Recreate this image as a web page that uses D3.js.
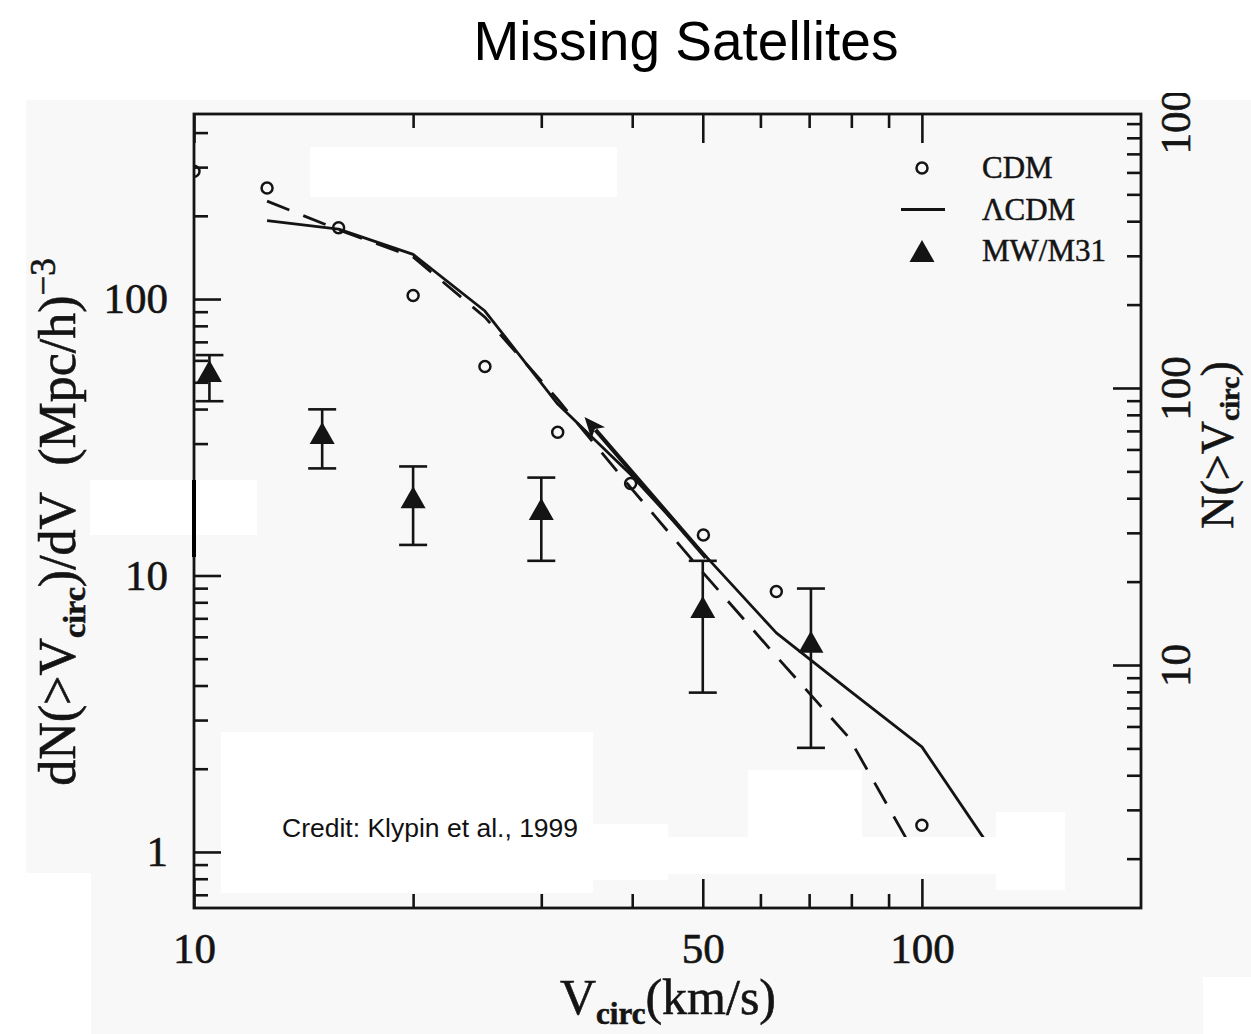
<!DOCTYPE html>
<html lang="en">
<head>
<meta charset="UTF-8">
<title>Missing Satellites</title>
<style>
	* { margin: 0; padding: 0; }
	body { background: #fff; }
	svg { display: block; }
</style>
</head>
<body>
<script src="https://cdn.jsdelivr.net/npm/d3@7"></script>
<script>
	// circular velocity bins, km/s
	var vCirc = [10, 12.6, 15.8, 20, 25.1, 31.6, 39.8, 50.1, 63.1, 79.4, 100, 125.9];
	// CDM halos (open circles)
	var cdm = [290, 252, 181, 103, 57, 33, 21.5, 14, 8.75, null, 1.25, null];
	// LCDM (solid line)
	var lcdm = [null, 192, 179, 145, 90.5, 41.7, 23.2, 12.0, 6.2, 3.85, 2.4, 0.98];
	// dashed curve
	var dashed = [null, 226, 178, 142, 86, 43.3, 20.8, 10.2, 5.1, 2.59, 0.89, null];

	// MW/M31 satellites with error bars
	var obsV = [10.5, 15.0, 20.0, 30.0, 50.0, 70.4];
	var obsN = [54.9, 32.8, 19.2, 17.4, 7.7, 5.76];
	var obsHi = [62.7, 39.9, 24.8, 22.6, 11.3, 8.97];
	var obsLo = [42.7, 24.4, 12.9, 11.3, 3.77, 2.38];

	// arrow annotation (tail -> head)
	var arrowV = [50.5, 34.4];
	var arrowN = [11.6, 37.4];

	// ticks
	var xMajor = [10, 50, 100];
	var xMinor = [20, 30, 40, 60, 70, 80, 90];
	var yMajor = [1, 10, 100];
	var yMinor = [0.7, 0.8, 0.9, 2, 3, 4, 5, 6, 7, 8, 9, 20, 30, 40, 50, 60, 70, 80, 90, 200, 300, 400];
	var rMajor = [10, 100, 1000];
	var rMinor = [2, 3, 4, 5, 6, 7, 8, 9, 20, 30, 40, 50, 60, 70, 80, 90, 200, 300, 400, 500, 600, 700, 800, 900];

	var legendItems = [
		{label: 'CDM', kind: 'circle'},
		{label: '\u039BCDM', kind: 'line'},
		{label: 'MW/M31', kind: 'tri'}
	];

	var W = 1251, H = 1034;
	var plot = {left: 194, top: 114, right: 1141, bottom: 908};
	var ink = '#141414';
	var serif = "'Liberation Serif', 'Times New Roman', serif";
	var sans = "'Liberation Sans', Arial, Helvetica, sans-serif";

	var svg = d3.select('body').append('svg').attr('width', W).attr('height', H);

	// scanned figure background
	svg.append('rect').attr('x', 26).attr('y', 100).attr('width', W - 26).attr('height', H - 100).attr('fill', '#f8f8f8');
	svg.append('rect').attr('x', 0).attr('y', 873).attr('width', 91).attr('height', H - 873).attr('fill', '#fff');
	svg.append('rect').attr('x', 1203).attr('y', 977).attr('width', W - 1203).attr('height', H - 977).attr('fill', '#fff');

	svg.append('text')
		.attr('x', 686).attr('y', 60)
		.attr('text-anchor', 'middle')
		.attr('font-family', sans).attr('font-size', 55)
		.attr('fill', '#000')
		.text('Missing Satellites');

	var defs = svg.append('defs');
	defs.append('clipPath').attr('id', 'plotClip').append('rect')
		.attr('x', plot.left).attr('y', plot.top)
		.attr('width', plot.right - plot.left).attr('height', plot.bottom - plot.top);
	defs.append('clipPath').attr('id', 'figClip').append('rect')
		.attr('x', 0).attr('y', 93).attr('width', W).attr('height', H - 93);

	var fig = svg.append('g').attr('clip-path', 'url(#figClip)');

	var x = d3.scaleLog().domain([10, 200]).range([plot.left, plot.right]);
	var y = d3.scaleLog().domain([0.627, 467]).range([plot.bottom, plot.top]);
	var yR = d3.scaleLog().domain([1.327, 975]).range([plot.bottom, plot.top]);

	// data
	var data = vCirc.map(function (v, i) {
		return {v: v, cdm: cdm[i], lcdm: lcdm[i], dashed: dashed[i]};
	});
	var obs = obsV.map(function (v, i) {
		return {v: v, n: obsN[i], hi: obsHi[i], lo: obsLo[i]};
	});

	var inner = fig.append('g').attr('clip-path', 'url(#plotClip)');

	function lineFor(key) {
		return d3.line()
			.defined(function (d) { return d[key] != null; })
			.x(function (d) { return x(d.v); })
			.y(function (d) { return y(d[key]); });
	}

	inner.append('path')
		.datum(data)
		.attr('d', lineFor('dashed'))
		.attr('fill', 'none').attr('stroke', ink).attr('stroke-width', 2.8)
		.attr('stroke-dasharray', '24,15');

	inner.append('path')
		.datum(data)
		.attr('d', lineFor('lcdm'))
		.attr('fill', 'none').attr('stroke', ink).attr('stroke-width', 2.8)
		.attr('stroke-linejoin', 'round');

	inner.selectAll('circle.cdm')
		.data(data.filter(function (d) { return d.cdm != null; }))
		.enter()
		.append('circle')
		.classed('cdm', true)
		.attr('cx', function (d) { return x(d.v); })
		.attr('cy', function (d) { return y(d.cdm); })
		.attr('r', 5.5)
		.attr('fill', 'none').attr('stroke', ink).attr('stroke-width', 2.5);

	// arrow
	var ax0 = x(arrowV[0]), ay0 = y(arrowN[0]), ax1 = x(arrowV[1]), ay1 = y(arrowN[1]);
	var ang = Math.atan2(ay1 - ay0, ax1 - ax0);
	var headLen = 21, headHalf = 9;
	fig.append('line')
		.attr('x1', ax0).attr('y1', ay0)
		.attr('x2', ax1 - Math.cos(ang) * headLen * 0.8).attr('y2', ay1 - Math.sin(ang) * headLen * 0.8)
		.attr('stroke', ink).attr('stroke-width', 4.2);
	fig.append('path')
		.attr('d', 'M0,0L' + (-headLen) + ',' + (-headHalf) + 'L' + (-headLen * 0.75) + ',0L' + (-headLen) + ',' + headHalf + 'Z')
		.attr('transform', 'translate(' + ax1 + ',' + ay1 + ') rotate(' + (ang * 180 / Math.PI) + ')')
		.attr('fill', ink);

	// observed satellites
	function triPath(cx, cy) {
		return 'M' + cx + ',' + (cy - 11) + 'L' + (cx + 12.5) + ',' + (cy + 11) + 'L' + (cx - 12.5) + ',' + (cy + 11) + 'Z';
	}
	var obsG = fig.selectAll('g.obs')
		.data(obs)
		.enter()
		.append('g')
		.classed('obs', true);
	obsG.append('line')
		.attr('x1', function (d) { return x(d.v); }).attr('x2', function (d) { return x(d.v); })
		.attr('y1', function (d) { return y(d.lo); }).attr('y2', function (d) { return y(d.hi); })
		.attr('stroke', ink).attr('stroke-width', 2.6);
	obsG.selectAll('line.cap')
		.data(function (d) { return [{v: d.v, n: d.lo}, {v: d.v, n: d.hi}]; })
		.enter()
		.append('line')
		.classed('cap', true)
		.attr('x1', function (d) { return x(d.v) - 14; }).attr('x2', function (d) { return x(d.v) + 14; })
		.attr('y1', function (d) { return y(d.n); }).attr('y2', function (d) { return y(d.n); })
		.attr('stroke', ink).attr('stroke-width', 2.6);
	obsG.append('path')
		.attr('d', function (d) { return triPath(x(d.v), y(d.n)); })
		.attr('fill', ink);

	// axes
	function styleAxis(g) {
		g.attr('font-family', serif).attr('font-size', 43).attr('color', ink);
		g.select('.domain').remove();
		g.selectAll('line').attr('stroke-width', 2.6);
		g.selectAll('text').attr('fill', ink).attr('stroke', ink).attr('stroke-width', 0.6);
	}

	fig.append('g')
		.attr('transform', 'translate(0,' + plot.bottom + ')')
		.call(d3.axisBottom(x).tickValues(xMajor).tickFormat(d3.format('d')).tickSizeInner(-29).tickSizeOuter(0).tickPadding(24))
		.call(styleAxis);
	fig.append('g')
		.attr('transform', 'translate(0,' + plot.bottom + ')')
		.call(d3.axisBottom(x).tickValues(xMinor).tickFormat('').tickSizeInner(-14).tickSizeOuter(0))
		.call(styleAxis);
	fig.append('g')
		.attr('transform', 'translate(0,' + plot.top + ')')
		.call(d3.axisTop(x).tickValues(xMajor).tickFormat('').tickSizeInner(-29).tickSizeOuter(0))
		.call(styleAxis);
	fig.append('g')
		.attr('transform', 'translate(0,' + plot.top + ')')
		.call(d3.axisTop(x).tickValues(xMinor).tickFormat('').tickSizeInner(-14).tickSizeOuter(0))
		.call(styleAxis);

	fig.append('g')
		.attr('transform', 'translate(' + plot.left + ',0)')
		.call(d3.axisLeft(y).tickValues(yMajor).tickFormat(d3.format('d')).tickSizeInner(-27).tickSizeOuter(0).tickPadding(26))
		.call(styleAxis);
	fig.append('g')
		.attr('transform', 'translate(' + plot.left + ',0)')
		.call(d3.axisLeft(y).tickValues(yMinor).tickFormat('').tickSizeInner(-14).tickSizeOuter(0))
		.call(styleAxis);

	var gR = fig.append('g')
		.attr('transform', 'translate(' + plot.right + ',0)')
		.call(d3.axisRight(yR).tickValues(rMajor).tickFormat(d3.format('d')).tickSizeInner(-28).tickSizeOuter(0))
		.call(styleAxis);
	gR.selectAll('.tick').filter(function (d) { return d > yR.domain()[1]; }).select('line').remove();
	gR.selectAll('text')
		.attr('x', null).attr('dy', null)
		.attr('text-anchor', 'middle')
		.attr('transform', 'translate(49,0) rotate(-90)');
	fig.append('g')
		.attr('transform', 'translate(' + plot.right + ',0)')
		.call(d3.axisRight(yR).tickValues(rMinor).tickFormat('').tickSizeInner(-14).tickSizeOuter(0))
		.call(styleAxis);

	// frame
	fig.append('rect')
		.attr('x', plot.left).attr('y', plot.top)
		.attr('width', plot.right - plot.left).attr('height', plot.bottom - plot.top)
		.attr('fill', 'none').attr('stroke', ink).attr('stroke-width', 2.8);

	// legend
	var leg = fig.selectAll('g.legend')
		.data(legendItems)
		.enter()
		.append('g')
		.classed('legend', true)
		.attr('transform', function (d, i) { return 'translate(922,' + (168 + i * 41.5) + ')'; });
	leg.filter(function (d) { return d.kind === 'circle'; })
		.append('circle').attr('r', 5.5).attr('fill', 'none').attr('stroke', ink).attr('stroke-width', 2.5);
	leg.filter(function (d) { return d.kind === 'line'; })
		.append('line').attr('x1', -21).attr('x2', 23).attr('y1', 0).attr('y2', 0)
		.attr('stroke', ink).attr('stroke-width', 2.8);
	leg.filter(function (d) { return d.kind === 'tri'; })
		.append('path').attr('d', triPath(0, 0)).attr('fill', ink);
	leg.append('text')
		.attr('x', 60).attr('dy', '0.33em')
		.attr('font-family', serif).attr('font-size', 31)
		.attr('fill', ink).attr('stroke', ink).attr('stroke-width', 0.5)
		.text(function (d) { return d.label; });

	// axis titles
	var yl = fig.append('text')
		.attr('transform', 'translate(75,522) rotate(-90)')
		.attr('text-anchor', 'middle')
		.attr('font-family', serif).attr('font-size', 52)
		.attr('fill', ink).attr('stroke', ink).attr('stroke-width', 0.6);
	yl.append('tspan').text('dN(>V');
	yl.append('tspan').attr('dy', 10).attr('font-size', 32).attr('font-weight', 'bold').text('circ');
	yl.append('tspan').attr('dy', -10).text(')/dV\u00a0\u00a0(Mpc/h)');
	yl.append('tspan').attr('dy', -20).attr('font-size', 35).text('\u22123');

	var yr = fig.append('text')
		.attr('transform', 'translate(1233,445) rotate(-90)')
		.attr('text-anchor', 'middle')
		.attr('font-family', serif).attr('font-size', 46)
		.attr('fill', ink).attr('stroke', ink).attr('stroke-width', 0.6);
	yr.append('tspan').text('N(>V');
	yr.append('tspan').attr('dy', 6).attr('font-size', 28).attr('font-weight', 'bold').text('circ');
	yr.append('tspan').attr('dy', -6).text(')');

	var xl = fig.append('text')
		.attr('x', 668).attr('y', 1014)
		.attr('text-anchor', 'middle')
		.attr('font-family', serif).attr('font-size', 50)
		.attr('fill', ink).attr('stroke', ink).attr('stroke-width', 0.6);
	xl.append('tspan').text('V');
	xl.append('tspan').attr('dy', 10).attr('font-size', 31).attr('font-weight', 'bold').text('circ');
	xl.append('tspan').attr('dy', -10).text('(km/s)');

	// white patches on the scanned figure
	var patches = [
		[310, 147, 307, 50],
		[90, 480, 167, 55],
		[221, 732, 372, 161],
		[593, 824, 75, 56],
		[667, 837, 330, 37],
		[748, 770, 114, 67],
		[996, 812, 69, 78]
	];
	fig.selectAll('rect.patch')
		.data(patches)
		.enter()
		.append('rect')
		.classed('patch', true)
		.attr('x', function (d) { return d[0]; }).attr('y', function (d) { return d[1]; })
		.attr('width', function (d) { return d[2]; }).attr('height', function (d) { return d[3]; })
		.attr('fill', '#fff');
	fig.append('line')
		.attr('x1', plot.left).attr('x2', plot.left).attr('y1', 480).attr('y2', 557)
		.attr('stroke', '#000').attr('stroke-width', 4);

	fig.append('text')
		.attr('x', 282).attr('y', 837)
		.attr('font-family', sans).attr('font-size', 26.5)
		.attr('fill', '#111')
		.text('Credit: Klypin et al., 1999');
</script>
</body>
</html>
